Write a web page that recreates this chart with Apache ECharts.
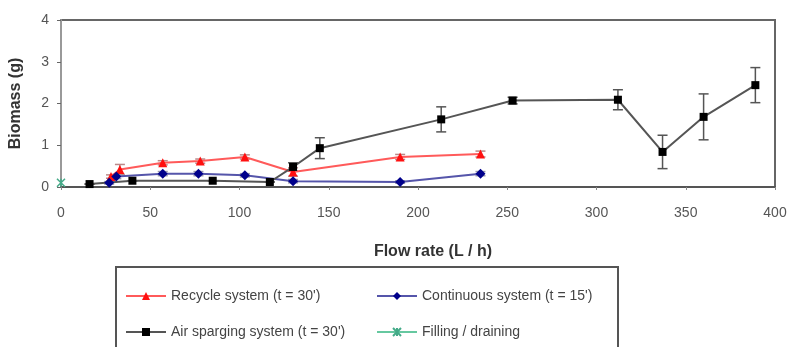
<!DOCTYPE html>
<html><head><meta charset="utf-8">
<script src="https://cdn.jsdelivr.net/npm/echarts@6/dist/echarts.min.js"></script>
<style>html,body{margin:0;padding:0;background:#fff}#c{width:788px;height:347px}</style>
</head><body><div id="c"></div>
<script>
const xTicks = [0, 50, 100, 150, 200, 250, 300, 350, 400];
const yTicks = [0, 1, 2, 3, 4];

const recycleX = [28, 33, 57, 78, 103, 130, 190, 235];
const recycleY = [0.25, 0.42, 0.58, 0.62, 0.72, 0.36, 0.72, 0.79];
const recycleErr = [0.04, 0.12, 0.05, 0.05, 0.05, 0.1, 0.06, 0.07];

const continuousX = [27, 31, 57, 77, 103, 130, 190, 235];
const continuousY = [0.1, 0.25, 0.32, 0.32, 0.28, 0.14, 0.12, 0.32];
const continuousErr = [0.03, 0.05, 0.05, 0.05, 0.04, 0.04, 0.03, 0.05];

const airX = [16, 40, 85, 117, 130, 145, 213, 253, 312, 337, 360, 389];
const airY = [0.07, 0.15, 0.15, 0.12, 0.48, 0.93, 1.62, 2.07, 2.09, 0.84, 1.68, 2.44];
const airErr = [0, 0, 0, 0, 0.1, 0.25, 0.3, 0.08, 0.24, 0.4, 0.55, 0.42];

const fillingX = [0];
const fillingY = [0.1];

const names = ["Recycle system (t = 30')", "Continuous system (t = 15')", "Air sparging system (t = 30')", "Filling / draining"];

const pairs = (xs, ys) => xs.map((x, i) => [x, ys[i]]);
const errData = (xs, ys, es) => xs.map((x, i) => [x, ys[i] - es[i], ys[i] + es[i]]);

function errSeries(xs, ys, es, color) {
  return {
    type: 'custom', silent: true, z: 1,
    data: errData(xs, ys, es),
    renderItem: function (params, api) {
      const lo = api.coord([api.value(0), api.value(1)]);
      const hi = api.coord([api.value(0), api.value(2)]);
      const w = 5;
      const st = { stroke: color, lineWidth: 1.5 };
      return { type: 'group', children: [
        { type: 'line', shape: { x1: lo[0], y1: lo[1], x2: hi[0], y2: hi[1] }, style: st },
        { type: 'line', shape: { x1: lo[0] - w, y1: lo[1], x2: lo[0] + w, y2: lo[1] }, style: st },
        { type: 'line', shape: { x1: hi[0] - w, y1: hi[1], x2: hi[0] + w, y2: hi[1] }, style: st }
      ]};
    }
  };
}

const font = 'Liberation Sans, Arial, sans-serif';
const xPath = 'path://M0,0 L10,10 M10,0 L0,10 M5,0 L5,10';

const chart = echarts.init(document.getElementById('c'), null, { renderer: 'canvas' });
chart.setOption({
  animation: false,
  backgroundColor: '#fff',
  grid: { left: 61, right: 13, top: 20, bottom: 160, outerBoundsMode: 'none', containLabel: false,
    show: true, borderColor: '#666', borderWidth: 2, backgroundColor: 'transparent' },
  xAxis: {
    type: 'value', min: xTicks[0], max: xTicks[xTicks.length - 1], interval: 50,
    name: 'Flow rate (L / h)', nameLocation: 'middle', nameGap: 57,
    nameTextStyle: { fontFamily: font, fontSize: 16, fontWeight: 'bold', color: '#333', padding: [0, 0, 0, 30] },
    axisLine: { lineStyle: { color: '#555', width: 2 } },
    axisTick: { show: true, length: 3, lineStyle: { color: '#888' } },
    axisLabel: { fontFamily: font, fontSize: 14, color: '#555', margin: 19 },
    splitLine: { show: false }
  },
  yAxis: {
    type: 'value', min: yTicks[0], max: yTicks[yTicks.length - 1], interval: 1,
    name: 'Biomass (g)', nameLocation: 'middle', nameGap: 37, nameRotate: 90,
    nameTextStyle: { fontFamily: font, fontSize: 16, fontWeight: 'bold', color: '#333' },
    axisLine: { show: true, lineStyle: { color: '#999', width: 2 } },
    axisTick: { show: true, length: 4, lineStyle: { color: '#666' } },
    axisLabel: { fontFamily: font, fontSize: 14, color: '#555', margin: 12 },
    splitLine: { show: false }
  },
  legend: [
    { orient: 'vertical', left: 120, top: 284, itemWidth: 40, itemHeight: 10, itemGap: 22,
      data: [names[0], names[2]], textStyle: { fontFamily: font, fontSize: 14, color: '#444' } },
    { orient: 'vertical', left: 371, top: 284, itemWidth: 40, itemHeight: 10, itemGap: 22,
      data: [names[1], names[3]], textStyle: { fontFamily: font, fontSize: 14, color: '#444' } }
  ],
  graphic: [{ type: 'rect', shape: { x: 116, y: 267, width: 502, height: 100 }, style: { fill: 'none', stroke: '#555', lineWidth: 2 } }],
  series: [
    errSeries(recycleX, recycleY, recycleErr, '#b88'),
    errSeries(continuousX, continuousY, continuousErr, '#99a'),
    errSeries(airX, airY, airErr, '#555'),
    { name: names[0], type: 'line', data: pairs(recycleX, recycleY), symbol: 'triangle', symbolSize: 9,
      lineStyle: { color: '#ff5a5a', width: 2 }, itemStyle: { color: '#ff1010' }, z: 3 },
    { name: names[1], type: 'line', data: pairs(continuousX, continuousY), symbol: 'diamond', symbolSize: 10,
      lineStyle: { color: '#5555aa', width: 2 }, itemStyle: { color: '#00008b' }, z: 3 },
    { name: names[2], type: 'line', data: pairs(airX, airY), symbol: 'rect', symbolSize: 8,
      lineStyle: { color: '#555', width: 2 }, itemStyle: { color: '#000' }, z: 3 },
    { name: names[3], type: 'line', data: pairs(fillingX, fillingY), symbol: xPath, symbolSize: 8,
      lineStyle: { color: '#66c8a0', width: 2 }, itemStyle: { color: 'none', borderColor: '#44aa88', borderWidth: 1.5 }, z: 3 }
  ]
});
</script></body></html>
